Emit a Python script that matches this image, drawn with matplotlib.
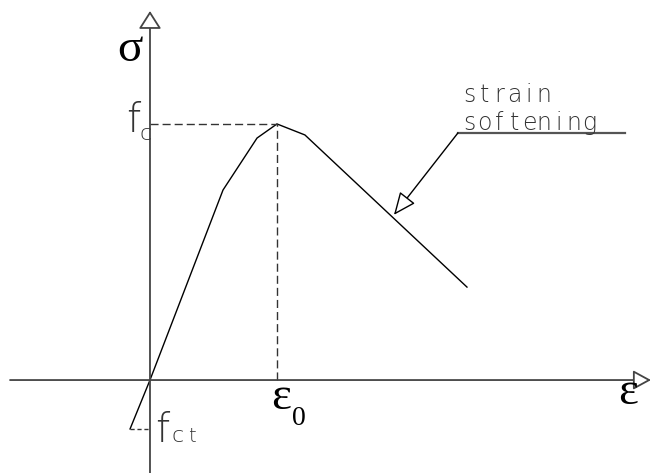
import matplotlib
matplotlib.use("Agg")
import matplotlib.pyplot as plt

# stress-strain curve, normalised by the peak (eps0, fc)
strain = [-0.157, 0.0, 0.575, 0.843, 1.0, 1.22, 2.496]
stress = [-0.191, 0.0, 0.742, 0.945, 1.0, 0.957, 0.363]

eps0, fc = 1.0, 1.0
fct = -0.191

# annotation leader for the descending branch
note_lines = ["strain", "softening"]
leader_x = [3.740, 2.425]
leader_y = [0.965, 0.965]
leader_tip = (1.921, 0.645)

XMIN, XMAX = -1.181, 3.945
YMIN, YMAX = -0.363, 1.484

fig = plt.figure(figsize=(6.51, 4.73), dpi=100)
ax = fig.add_axes([0, 0, 1, 1])
ax.set_xlim(XMIN, XMAX)
ax.set_ylim(YMIN, YMAX)
ax.axis("off")

axis_col = "#444444"
dash = (0, (5.8, 2.9))

# axes with hollow arrow heads
ax.annotate("", xy=(XMAX, 0), xytext=(-1.102, 0),
            arrowprops=dict(arrowstyle="-|>,head_length=0.55,head_width=0.3",
                            fc="white", ec=axis_col, lw=1.3, mutation_scale=20,
                            shrinkA=0, shrinkB=0))
ax.annotate("", xy=(0, 1.441), xytext=(0, YMIN),
            arrowprops=dict(arrowstyle="-|>,head_length=0.55,head_width=0.35",
                            fc="white", ec=axis_col, lw=1.3, mutation_scale=20,
                            shrinkA=0, shrinkB=0))

# the curve
ax.plot(strain, stress, color="black", lw=1.0, solid_joinstyle="miter")

# dashed guides to the peak and to the tensile strength
ax.plot([0, eps0], [fc, fc], color="#333333", lw=1.0, linestyle=dash)
ax.plot([eps0, eps0], [0, fc], color="#333333", lw=1.0, linestyle=dash)
ax.plot([strain[0], 0], [fct, fct], color="#333333", lw=1.0, linestyle=(0, (3, 2)))

# leader + hollow arrow to the softening branch
ax.plot(leader_x, leader_y, color="#555555", lw=1.6)
ax.annotate("", xy=leader_tip, xytext=(leader_x[1], leader_y[1]),
            arrowprops=dict(arrowstyle="-|>,head_length=0.7,head_width=0.3",
                            fc="white", ec="black", lw=1.0, mutation_scale=20,
                            shrinkA=0, shrinkB=0))

# CAD-style lettering: fixed pitch per character
cad = dict(family="DejaVu Sans", fontweight="light", fontsize=17,
           color="#333333", ha="center", va="baseline")
pitch = 0.118
for row, (word, base) in enumerate(zip(note_lines, [1.086, 0.977])):
    for i, ch in enumerate(word):
        ax.text(2.512 + i * pitch, base, ch, **cad)

# symbols
greek = dict(family="Liberation Serif", color="black", ha="center", va="center")
ax.text(-0.157, 1.29, "σ", fontsize=34, **greek)
ax.text(3.765, -0.05, "ε", fontsize=34, **greek)
ax.text(eps0 + 0.03, -0.07, "ε", fontsize=34, **greek)
ax.text(eps0 + 0.175, -0.15, "0", fontsize=20, **greek)

lab = dict(family="DejaVu Sans", fontweight="light", color="#333333",
           ha="center", va="baseline")
ax.text(-0.13, 0.969, "f", fontsize=29, **lab)
ax.text(-0.035, 0.9375, "c", fontsize=16, **lab)
ax.text(0.10, -0.242, "f", fontsize=29, **lab)
ax.text(0.215, -0.242, "c", fontsize=16, **lab)
ax.text(0.33, -0.242, "t", fontsize=14, **lab)

fig.savefig("out.png", dpi=100)
